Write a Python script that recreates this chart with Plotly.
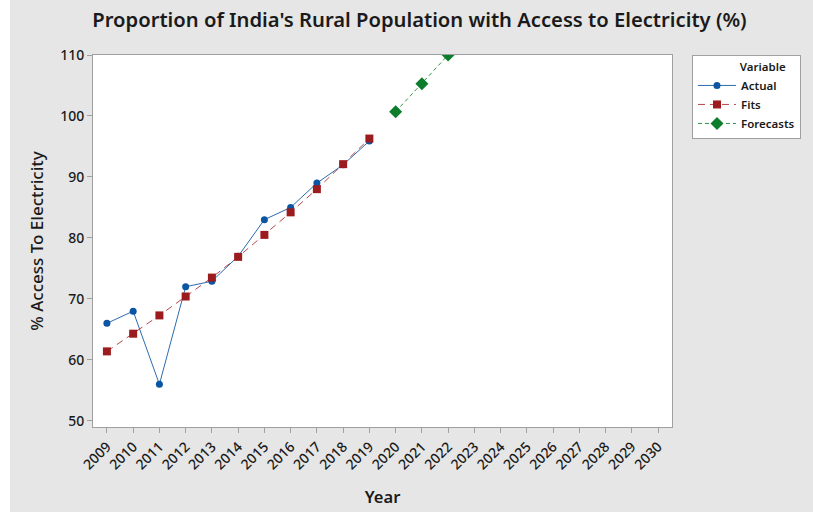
import plotly.graph_objects as go

# Observed and fitted values, 2009-2019, plus trend forecasts
years_actual = [2009, 2010, 2011, 2012, 2013, 2014, 2015, 2016, 2017, 2018, 2019]
actual = [66.0, 68.0, 56.0, 72.0, 72.9, 77.0, 83.0, 85.0, 89.0, 92.0, 95.9]
fits = [61.4, 64.3, 67.3, 70.4, 73.5, 76.9, 80.5, 84.2, 88.0, 92.1, 96.3]
years_forecast = [2020, 2021, 2022]
forecasts = [100.7, 105.3, 110.0]
tick_years = list(range(2009, 2031))

FONT = "Noto Sans"
BG = "#e6e6e6"
FRAME = "#a0a0a0"
INK = "#1a1a1a"

fig = go.Figure()

fig.add_trace(go.Scatter(
    x=years_actual, y=actual, name="Actual", mode="lines+markers",
    line=dict(color="#2b6cb0", width=1),
    marker=dict(symbol="circle", size=7, color="#0b55a3"),
))
fig.add_trace(go.Scatter(
    x=years_actual, y=fits, name="Fits", mode="lines+markers",
    line=dict(color="#b5474a", width=1, dash="7px,5px"),
    marker=dict(symbol="square", size=8, color="#9b1b1e"),
))
fig.add_trace(go.Scatter(
    x=years_forecast, y=forecasts, name="Forecasts", mode="lines+markers",
    line=dict(color="#2e9448", width=1, dash="4px,3px"),
    marker=dict(symbol="diamond", size=10, color="#0b7d2b"),
))

fig.update_layout(
    width=813, height=512,
    margin=dict(l=93, r=141, t=55, b=85),
    paper_bgcolor=BG, plot_bgcolor="white",
    font=dict(family=FONT, color=INK),
    title=dict(
        text="Proportion of India's Rural Population with Access to Electricity (%)",
        x=0.516, xanchor="center", y=0.962, yanchor="middle",
        font=dict(size=20.2, family=FONT, weight=600, color=INK),
    ),
    showlegend=True,
    legend=dict(
        x=1.0345, xanchor="left", y=1.0, yanchor="top",
        bgcolor="white", bordercolor=FRAME, borderwidth=1,
        title=dict(text="\u00a0" * 15 + "Variable", side="top",
                   font=dict(size=11.5, weight=600)),
        font=dict(size=11.5, weight=600, color=INK),
        tracegroupgap=0, itemwidth=38,
    ),
    shapes=[dict(type="rect", xref="paper", yref="paper",
                 x0=-0.17, x1=-0.1434, y0=-0.25, y1=1.2,
                 fillcolor="white", line=dict(width=0), layer="below")],
)

fig.update_xaxes(
    automargin=False,
    range=[2008.47, 2030.53], tickmode="array", tickvals=tick_years,
    ticktext=[str(y) for y in tick_years], tickangle=-45,
    showgrid=False, zeroline=False,
    showline=True, linecolor=FRAME, linewidth=1, mirror=True,
    ticks="outside", ticklen=5, tickcolor=FRAME,
    tickfont=dict(size=14, weight=500, color=INK),
    title=dict(text="Year", standoff=19, font=dict(size=16.5, weight=600)),
)
fig.update_yaxes(
    automargin=False,
    range=[49, 110], tickvals=[50, 60, 70, 80, 90, 100, 110],
    showgrid=False, zeroline=False,
    showline=True, linecolor=FRAME, linewidth=1, mirror=True,
    ticks="outside", ticklen=5, tickcolor=FRAME,
    tickfont=dict(size=14, weight=500, color=INK),
    title=dict(text="% Access To Electricity", standoff=12,
               font=dict(size=17, weight=500)),
)

fig.write_html("out.html")
